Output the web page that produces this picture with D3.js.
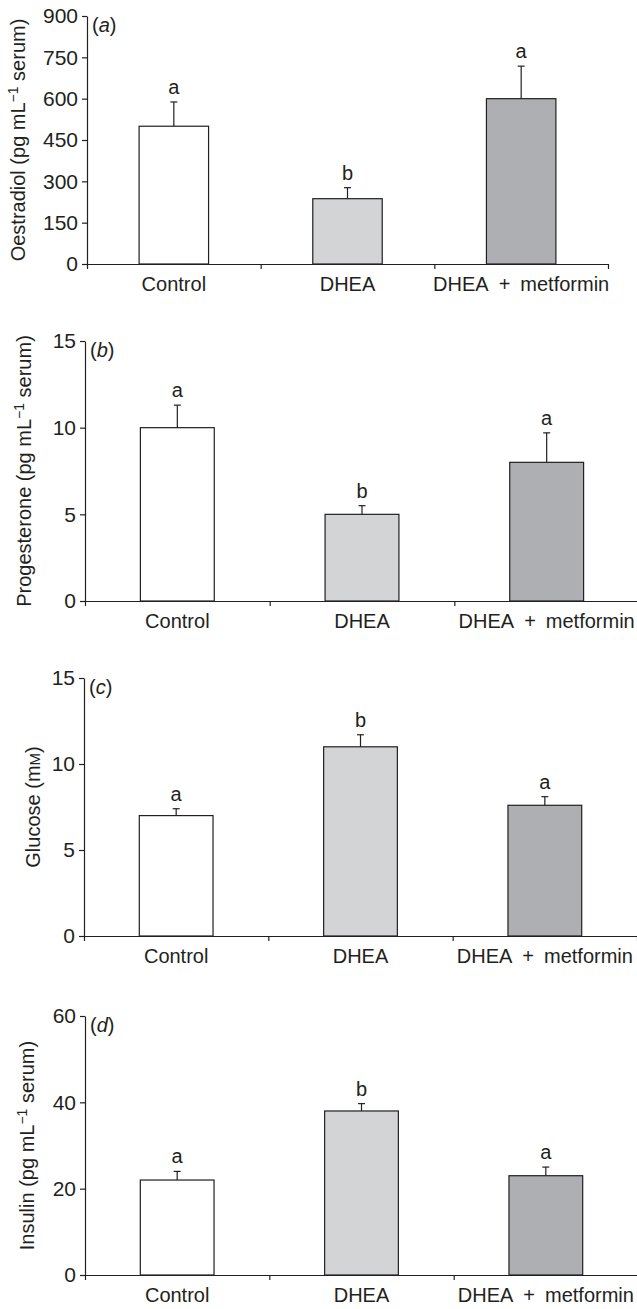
<!DOCTYPE html>
<html>
<head>
<meta charset="utf-8">
<script src="https://cdn.jsdelivr.net/npm/d3@7"></script>
<style>
  body { margin: 0; background: #fff; }
  svg text { font-family: "Liberation Sans", Arial, Helvetica, sans-serif; fill: #231f20; }
</style>
</head>
<body>
<svg id="chart" width="637" height="1309"></svg>
<script>
// groups on the x axis
const groups = ["Control", "DHEA", "DHEA + metformin"];

// (a) oestradiol
const oestradiol = [500, 237, 600];
const oestradiolErr = [88, 40, 118];
const oestradiolTicks = [0, 150, 300, 450, 600, 750, 900];
const oestradiolLetters = ["a", "b", "a"];

// (b) progesterone
const progesterone = [10, 5, 8];
const progesteroneErr = [1.3, 0.5, 1.7];
const progesteroneTicks = [0, 5, 10, 15];
const progesteroneLetters = ["a", "b", "a"];

// (c) glucose
const glucose = [7, 11, 7.6];
const glucoseErr = [0.4, 0.7, 0.5];
const glucoseTicks = [0, 5, 10, 15];
const glucoseLetters = ["a", "b", "a"];

// (d) insulin
const insulin = [22, 38, 23];
const insulinErr = [2, 1.7, 2];
const insulinTicks = [0, 20, 40, 60];
const insulinLetters = ["a", "b", "a"];

const barColors = ["#ffffff", "#d3d4d6", "#aeafb2"];
const ink = "#231f20";
const fontSize = 20;
const tickFont = 21;

const panels = [
  { tag: "a", title: ["Oestradiol (pg mL", "−1", " serum)"], values: oestradiol, err: oestradiolErr,
    ticks: oestradiolTicks, letters: oestradiolLetters,
    left: 87, right: 608, top: 16, bottom: 264, titleX: 25 },
  { tag: "b", title: ["Progesterone (pg mL", "−1", " serum)"], values: progesterone, err: progesteroneErr,
    ticks: progesteroneTicks, letters: progesteroneLetters,
    left: 85, right: 639, top: 341, bottom: 601, titleX: 31 },
  { tag: "c", title: ["Glucose (m", "M", ")"], values: glucose, err: glucoseErr,
    ticks: glucoseTicks, letters: glucoseLetters,
    left: 84, right: 637, top: 678, bottom: 936, titleX: 40 },
  { tag: "d", title: ["Insulin (pg mL", "−1", " serum)"], values: insulin, err: insulinErr,
    ticks: insulinTicks, letters: insulinLetters,
    left: 85, right: 638, top: 1016, bottom: 1275, titleX: 34 }
];

const svg = d3.select("#chart");

panels.forEach(p => {
  const width = p.right - p.left;
  const height = p.bottom - p.top;
  const g = svg.append("g").attr("transform", "translate(" + p.left + "," + p.top + ")");

  const x = d3.scaleBand()
    .domain(groups)
    .range([0, width])
    .paddingInner(0.6)
    .paddingOuter(0.3);

  const y = d3.scaleLinear()
    .domain([p.ticks[0], p.ticks[p.ticks.length - 1]])
    .range([height, 0]);

  // boundary ticks along the x axis
  const xb = d3.scaleLinear().domain([0, groups.length]).range([0, width]);

  const data = groups.map((k, i) => ({ k: k, v: p.values[i], e: p.err[i], l: p.letters[i], c: barColors[i] }));

  // bars
  g.selectAll(".bar")
    .data(data)
    .enter()
    .append("rect")
    .attr("x", d => x(d.k))
    .attr("y", d => y(d.v))
    .attr("width", x.bandwidth())
    .attr("height", d => height - y(d.v))
    .attr("fill", d => d.c)
    .attr("stroke", ink)
    .attr("stroke-width", 1.2);

  // error bars (upper only)
  const cx = d => x(d.k) + x.bandwidth() / 2;
  g.selectAll(".err")
    .data(data)
    .enter()
    .append("line")
    .attr("x1", cx).attr("x2", cx)
    .attr("y1", d => y(d.v)).attr("y2", d => y(d.v + d.e))
    .attr("stroke", ink).attr("stroke-width", 1.2);
  g.selectAll(".cap")
    .data(data)
    .enter()
    .append("line")
    .attr("x1", d => cx(d) - 3.5).attr("x2", d => cx(d) + 3.5)
    .attr("y1", d => y(d.v + d.e)).attr("y2", d => y(d.v + d.e))
    .attr("stroke", ink).attr("stroke-width", 1.2);

  // significance letters
  g.selectAll(".letter")
    .data(data)
    .enter()
    .append("text")
    .attr("x", cx)
    .attr("y", d => y(d.v + d.e) - 8)
    .attr("text-anchor", "middle")
    .style("font-size", fontSize + "px")
    .text(d => d.l);

  // y axis
  const yAxis = g.append("g")
    .call(d3.axisLeft(y).tickValues(p.ticks).tickSize(5).tickSizeOuter(0).tickPadding(4));
  yAxis.selectAll("text").style("font-size", tickFont + "px").attr("fill", ink);

  // x axis: line with boundary ticks, then group labels
  g.append("g")
    .attr("transform", "translate(0," + height + ")")
    .call(d3.axisBottom(xb).ticks(groups.length).tickSize(5).tickSizeOuter(0).tickFormat(""));
  g.append("g")
    .attr("transform", "translate(0," + height + ")")
    .call(d3.axisBottom(x).tickSize(0).tickPadding(13).tickFormat(d => d.replace(/ \+ /, "\u2002+\u2002")))
    .call(a => a.select(".domain").remove())
    .selectAll("text").style("font-size", fontSize + "px").attr("fill", ink);

  g.selectAll(".domain, .tick line").attr("stroke", ink).attr("stroke-width", 1.2);

  // panel tag
  const tag = g.append("text")
    .attr("x", 5)
    .attr("y", 16)
    .style("font-size", fontSize + "px");
  tag.append("tspan").text("(");
  tag.append("tspan").style("font-style", "italic").text(p.tag);
  tag.append("tspan").text(")");

  // y title
  const title = svg.append("text")
    .attr("transform", "translate(" + p.titleX + "," + ((p.top + p.bottom) / 2) + ") rotate(-90)")
    .attr("text-anchor", "middle")
    .style("font-size", fontSize + "px");
  title.append("tspan").text(p.title[0]);
  if (p.tag === "c") {
    title.append("tspan").style("font-size", (fontSize * 0.75) + "px").text(p.title[1]);
    title.append("tspan").text(p.title[2]);
  } else {
    title.append("tspan").attr("dy", -7).style("font-size", (fontSize * 0.7) + "px").text(p.title[1]);
    title.append("tspan").attr("dy", 7).text(p.title[2]);
  }
});
</script>
</body>
</html>
